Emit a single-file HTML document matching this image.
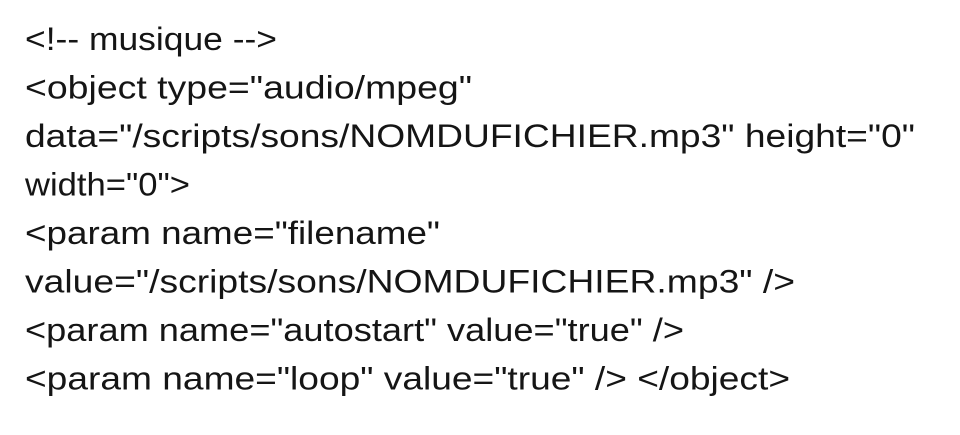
<!DOCTYPE html>
<html><head><meta charset="utf-8"><style>
html,body{margin:0;padding:0;background:#fff;width:960px;height:435px;overflow:hidden}
text{font-family:"Liberation Sans",sans-serif;font-size:32px;fill:#151515}
</style></head><body>
<svg width="960" height="435" xmlns="http://www.w3.org/2000/svg">
<text x="25" y="50" textLength="252" lengthAdjust="spacingAndGlyphs">&lt;!-- musique --&gt;</text>
<text x="25" y="98.5" textLength="447" lengthAdjust="spacingAndGlyphs">&lt;object type="audio/mpeg"</text>
<text x="25" y="147" textLength="890" lengthAdjust="spacingAndGlyphs">data="/scripts/sons/NOMDUFICHIER.mp3" height="0"</text>
<text x="25" y="195.5" textLength="165" lengthAdjust="spacingAndGlyphs">width="0"&gt;</text>
<text x="25" y="244" textLength="415" lengthAdjust="spacingAndGlyphs">&lt;param name="filename"</text>
<text x="25" y="292.5" textLength="770" lengthAdjust="spacingAndGlyphs">value="/scripts/sons/NOMDUFICHIER.mp3" /&gt;</text>
<text x="25" y="341" textLength="659" lengthAdjust="spacingAndGlyphs">&lt;param name="autostart" value="true" /&gt;</text>
<text x="25" y="389.5" textLength="765" lengthAdjust="spacingAndGlyphs">&lt;param name="loop" value="true" /&gt; &lt;/object&gt;</text>
</svg>
</body></html>
